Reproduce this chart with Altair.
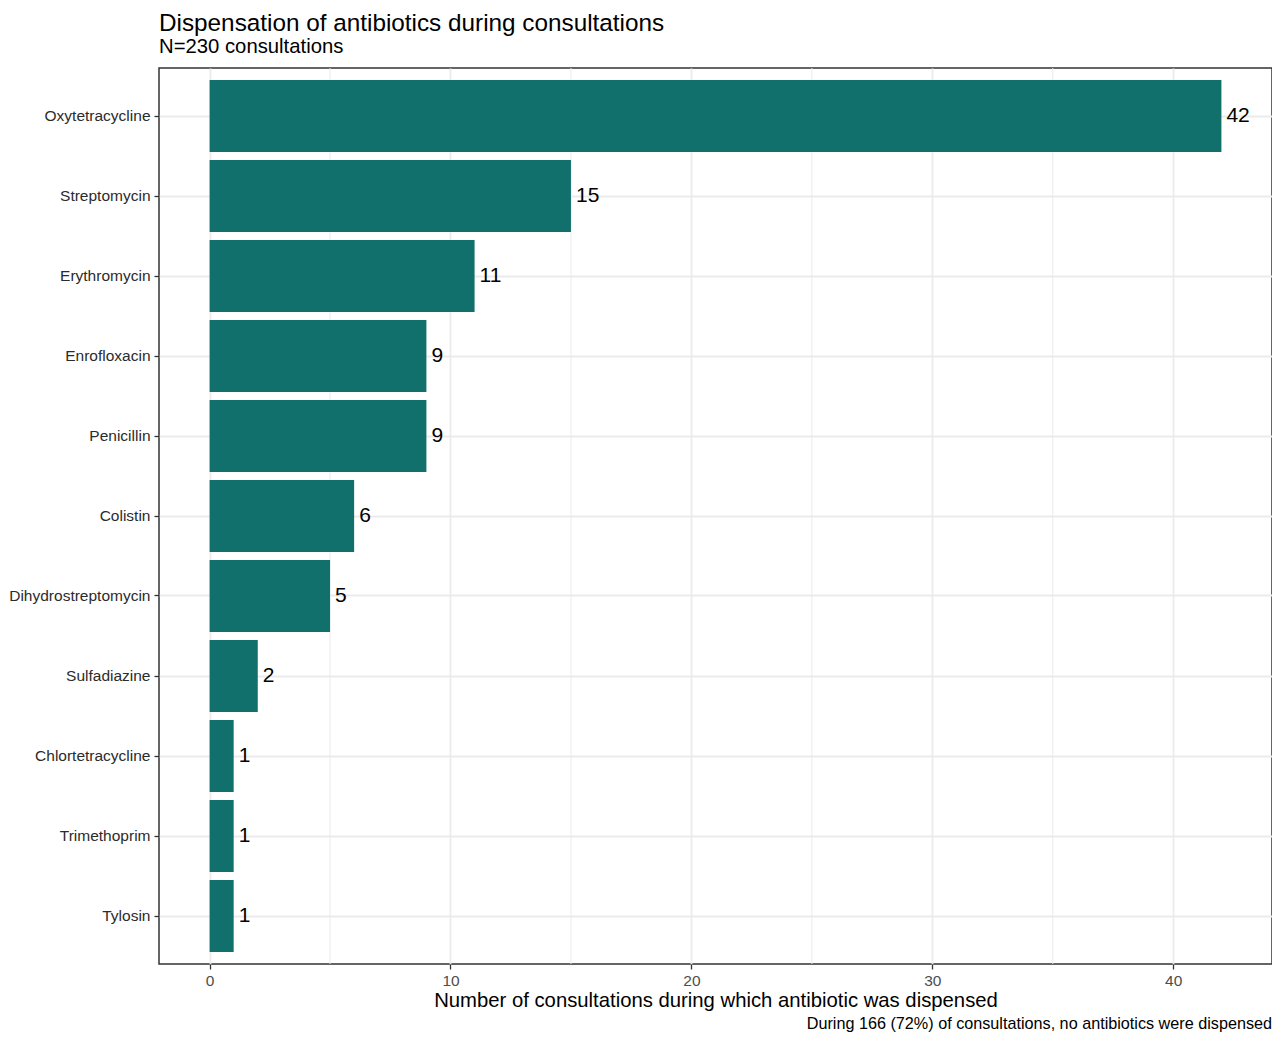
import altair as alt
import pandas as pd

antibiotics = ["Oxytetracycline", "Streptomycin", "Erythromycin", "Enrofloxacin", "Penicillin",
               "Colistin", "Dihydrostreptomycin", "Sulfadiazine", "Chlortetracycline",
               "Trimethoprim", "Tylosin"]
counts = [42, 15, 11, 9, 9, 6, 5, 2, 1, 1, 1]
x_ticks = [0, 10, 20, 30, 40]
minor_ticks = [5, 15, 25, 35]

title_text = "Dispensation of antibiotics during consultations"
subtitle_text = "N=230 consultations"
x_title = "Number of consultations during which antibiotic was dispensed"
caption_text = "During 166 (72%) of consultations, no antibiotics were dispensed"

FONT = "Liberation Sans"
W, H = 1113, 896
BAR = "#12706C"

df = pd.DataFrame({"antibiotic": antibiotics, "n": counts})
minor_df = pd.DataFrame({"v": minor_ticks})
cap_df = pd.DataFrame({"t": [caption_text]})

xscale = alt.Scale(domain=[-2.1, 44.1], nice=False, zero=False)
yscale = alt.Scale(paddingInner=0.1, paddingOuter=0.15)

minor = alt.Chart(minor_df).mark_rule(color="#ebebeb", strokeWidth=1).encode(
    x=alt.X("v:Q", scale=xscale)
)

base = alt.Chart(df).encode(
    y=alt.Y("antibiotic:N", sort=antibiotics, scale=yscale,
            axis=alt.Axis(title=None, bandPosition=0.5, grid=True, gridColor="#ebebeb",
                          gridWidth=1.8, domain=False, tickColor="#333333", tickSize=5,
                          tickWidth=1.3, labelPadding=4, labelFont=FONT, labelFontSize=15.5,
                          labelColor="#2b2b2b")),
)

bars = base.mark_bar(color=BAR).encode(
    x=alt.X("n:Q", scale=xscale,
            axis=alt.Axis(values=x_ticks, title=x_title, grid=True, gridColor="#ebebeb",
                          gridWidth=1.8, domain=False, tickColor="#333333", tickSize=5,
                          tickWidth=1.3, labelPadding=4, labelFont=FONT, labelFontSize=15.5,
                          labelColor="#4d4d4d", titleFont=FONT, titleFontSize=20.3,
                          titleFontWeight="normal", titleColor="#000000", titlePadding=2,
                          format="d")),
)

labels = base.mark_text(align="left", baseline="middle", dx=5, font=FONT, fontSize=21,
                        color="#000000").encode(
    x=alt.X("n:Q", scale=xscale),
    text=alt.Text("n:Q"),
)

caption = alt.Chart(cap_df).mark_text(align="right", baseline="alphabetic", font=FONT,
                                      fontSize=16.2, color="#000000").encode(
    x=alt.value(W), y=alt.value(H + 65), text="t:N"
)

chart = alt.layer(minor, bars, labels, caption).properties(
    width=W, height=H,
    title=alt.TitleParams(text=title_text, subtitle=subtitle_text, anchor="start",
                          frame="group", font=FONT, fontSize=24.3, fontWeight="normal",
                          color="#000000", subtitleFont=FONT, subtitleFontSize=20.3,
                          subtitleColor="#000000", subtitlePadding=1, offset=10),
    autosize=alt.AutoSizeParams(type="none"),
    padding={"left": 151, "top": 60, "right": 0, "bottom": 69},
).configure(background="white").configure_view(stroke="#333333", strokeWidth=1.5)

chart.save("out.html", embed_options={"renderer": "svg", "actions": False})
